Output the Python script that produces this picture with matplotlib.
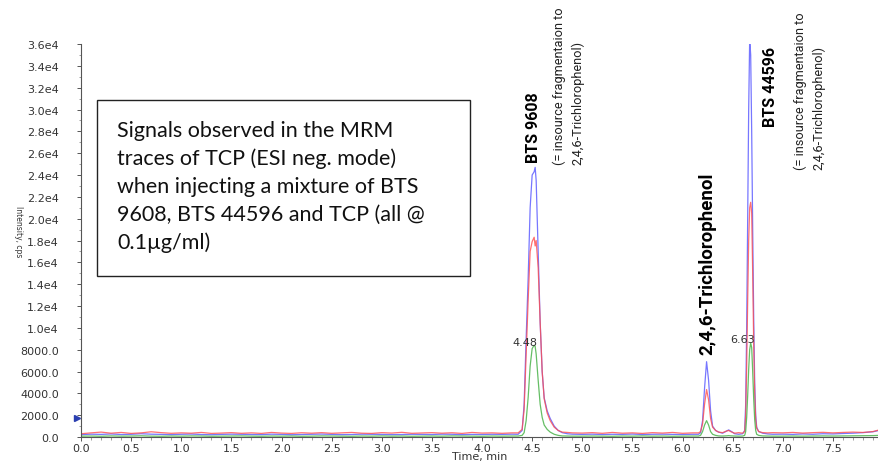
import numpy as np
import matplotlib
matplotlib.use("Agg")
import matplotlib.pyplot as plt
from matplotlib.ticker import MultipleLocator, FuncFormatter
from matplotlib.patches import Rectangle

# time axis (min), shared by the three MRM traces
times = [0.0, 0.1, 0.2, 0.3, 0.4, 0.5, 0.6, 0.7, 0.8, 0.9,
         1.0, 1.1, 1.2, 1.3, 1.4, 1.5, 1.6, 1.7, 1.8, 1.9,
         2.0, 2.1, 2.2, 2.3, 2.4, 2.5, 2.6, 2.7, 2.8, 2.9,
         3.0, 3.1, 3.2, 3.3, 3.4, 3.5, 3.6, 3.7, 3.8, 3.9,
         4.0, 4.1, 4.2, 4.3,
         4.36, 4.40, 4.42, 4.44, 4.46, 4.48, 4.50, 4.52, 4.53, 4.54, 4.56,
         4.58, 4.60, 4.62, 4.65, 4.68, 4.72, 4.76, 4.80, 4.85, 4.90,
         5.0, 5.1, 5.2, 5.3, 5.4, 5.5, 5.6, 5.7, 5.8, 5.9, 6.0, 6.1,
         6.16, 6.18, 6.20, 6.22, 6.24, 6.26, 6.28, 6.30, 6.33, 6.36,
         6.40, 6.44, 6.46, 6.48, 6.52, 6.56, 6.60,
         6.62, 6.63, 6.64, 6.65, 6.66, 6.67, 6.68, 6.69, 6.70, 6.71, 6.72, 6.73, 6.74,
         6.76, 6.80, 6.85, 6.90,
         7.0, 7.1, 7.2, 7.3, 7.4, 7.5, 7.6, 7.7, 7.8, 7.9, 7.96]

blue_cps = [220, 260, 240, 280, 230, 250, 300, 260, 240, 220,
            250, 270, 230, 210, 240, 260, 250, 230, 220, 260,
            240, 210, 230, 250, 270, 240, 220, 230, 260, 250,
            240, 220, 230, 250, 240, 230, 260, 250, 220, 240,
            230, 250, 240, 260,
            250, 600, 3000, 9000, 14500, 21000, 24000, 24300, 24700, 23500, 17000,
            10500, 6000, 3600, 2400, 1700, 1000, 600, 400, 300, 260,
            240, 260, 230, 250, 240, 270, 230, 250, 260, 240, 230, 250,
            250, 400, 1500, 4500, 6900, 5200, 2400, 1000, 600, 450,
            350, 550, 650, 550, 300, 250, 300,
            600, 3000, 10000, 20000, 30000, 36500, 35000, 28000, 19000, 11000, 5000, 2000, 900,
            500, 350, 280, 250,
            260, 240, 280, 250, 300, 280, 320, 350, 400, 480, 600]

red_cps = [300, 380, 450, 350, 420, 330, 380, 480, 400, 340,
           380, 350, 420, 330, 360, 400, 340, 380, 330, 420,
           360, 330, 390, 350, 400, 340, 380, 420, 350, 330,
           400, 360, 430, 340, 370, 400, 350, 390, 330, 420,
           360, 380, 340, 380,
           380, 700, 2500, 7500, 12500, 17000, 17900, 18300, 17500, 18000, 15500,
           10500, 6000, 3500, 2200, 1500, 900, 600, 450, 420, 380,
           360, 400, 340, 420, 350, 380, 330, 400, 360, 420, 340, 380,
           380, 500, 1200, 3000, 4350, 3400, 1700, 900, 600, 450,
           400, 550, 600, 500, 350, 400, 350,
           500, 2000, 6500, 12500, 18000, 21000, 21500, 20500, 15000, 8500, 4000, 1600, 800,
           500, 400, 380, 400,
           380, 420, 360, 400, 430, 380, 420, 450, 420, 500, 650]

green_cps = [80, 90, 70, 100, 80, 90, 110, 80, 70, 90,
             80, 100, 90, 70, 80, 90, 100, 80, 70, 90,
             80, 90, 70, 80, 100, 90, 80, 70, 90, 80,
             100, 80, 90, 70, 80, 90, 80, 100, 90, 80,
             70, 90, 80, 90,
             90, 150, 400, 1500, 3600, 6500, 8100, 8400, 8300, 7600, 5200,
             3000, 1800, 1100, 700, 450, 250, 150, 100, 90, 80,
             80, 90, 80, 70, 90, 80, 100, 80, 90, 70, 80, 90,
             90, 150, 500, 1100, 1500, 1100, 500, 250, 150, 100,
             90, 110, 130, 110, 90, 80, 90,
             150, 500, 1800, 3800, 6200, 8000, 8600, 8200, 6000, 3500, 1600, 600, 250,
             150, 100, 90, 80,
             80, 90, 80, 90, 100, 90, 100, 110, 120, 130, 150]

apex_labels = ["4.48", "6.63"]
threshold_cps = 1700

fig = plt.figure(figsize=(8.79, 4.64), dpi=100)
ax = fig.add_axes([0.0922, 0.056, 0.9078, 0.847])

ax.plot(times, blue_cps, color="#5555ff", lw=0.9, alpha=0.8)
ax.plot(times, red_cps, color="#ff4d4d", lw=0.9, alpha=0.8)
ax.plot(times, green_cps, color="#3fae3f", lw=0.9, alpha=0.8)

ax.set_xlim(0, 7.96)
ax.set_ylim(0, 36000)

ax.xaxis.set_major_locator(MultipleLocator(0.5))
ax.xaxis.set_minor_locator(MultipleLocator(0.1))
ax.yaxis.set_major_locator(MultipleLocator(2000))
ax.yaxis.set_minor_locator(MultipleLocator(1000))
ax.xaxis.set_major_formatter(FuncFormatter(lambda v, p: f"{v:.1f}"))
ax.yaxis.set_major_formatter(
    FuncFormatter(lambda v, p: f"{v / 1e4:.1f}e4" if v >= 10000 else f"{v:.1f}"))

for s in ["top", "right"]:
    ax.spines[s].set_visible(False)
for s in ["left", "bottom"]:
    ax.spines[s].set_color("#555555")
    ax.spines[s].set_linewidth(0.8)

ax.tick_params(axis="both", which="major", labelsize=8, labelcolor="#333333",
               color="#555555", length=3, width=0.7)
ax.tick_params(axis="both", which="minor", color="#777777", length=1.8, width=0.5)
ax.tick_params(axis="y", which="major", pad=13)
ax.tick_params(axis="x", which="major", pad=1)

# little marker left of the y axis
ax.plot([-0.04], [threshold_cps], marker=">", color="#2a3fb0", ms=4.5,
        clip_on=False, ls="none")

ax.set_xlabel("Time, min", fontsize=8, color="#333333", labelpad=-1)
fig.text(18 / 879, 1 - 232 / 464, "Intensity, cps", rotation=270, fontsize=5.5,
         color="#333333", ha="center", va="center")

# apex labels
ax.text(4.43, 8700, apex_labels[0], fontsize=8, color="#333333", ha="center", va="center")
ax.text(6.60, 8970, apex_labels[1], fontsize=8, color="#333333", ha="center", va="center")

narrow = ["Roboto", "DejaVu Sans"]

ax.text(4.51, 25200, "BTS 9608", rotation=90, rotation_mode="anchor", ha="left",
        va="center", fontsize=11.5, fontweight="bold", family=narrow)
ax.text(4.865, 25000, "(= insource fragmentaion to\n2,4,6-Trichlorophenol)",
        rotation=90, rotation_mode="anchor", ha="left", va="center",
        fontsize=9.2, family=narrow, linespacing=1.45, color="#222222")

ax.text(6.25, 7600, "2,4,6-Trichlorophenol", rotation=90, rotation_mode="anchor",
        ha="left", va="center", fontsize=13.5, fontweight="bold", family=narrow)

ax.text(6.88, 28480, "BTS 44596", rotation=90, rotation_mode="anchor", ha="left",
        va="center", fontsize=11.5, fontweight="bold", family=narrow)
ax.text(7.27, 24540, "(= insource fragmentaion to\n2,4,6-Trichlorophenol)",
        rotation=90, rotation_mode="anchor", ha="left", va="center",
        fontsize=9.2, family=narrow, linespacing=1.45, color="#222222")

# description box
fig.add_artist(Rectangle((97 / 879, 1 - 277 / 464), 373 / 879, 176 / 464,
                         transform=fig.transFigure, facecolor="white",
                         edgecolor="#222222", lw=1.0))
fig.text(117 / 879, 1 - 121 / 464,
         "Signals observed in the MRM\ntraces of TCP (ESI neg. mode)\n"
         "when injecting a mixture of BTS\n9608, BTS 44596 and TCP (all @\n0.1µg/ml)",
         fontsize=15.5, family="Lato", ha="left", va="top", linespacing=1.47,
         color="#111111")

fig.savefig("out.png", dpi=100)
